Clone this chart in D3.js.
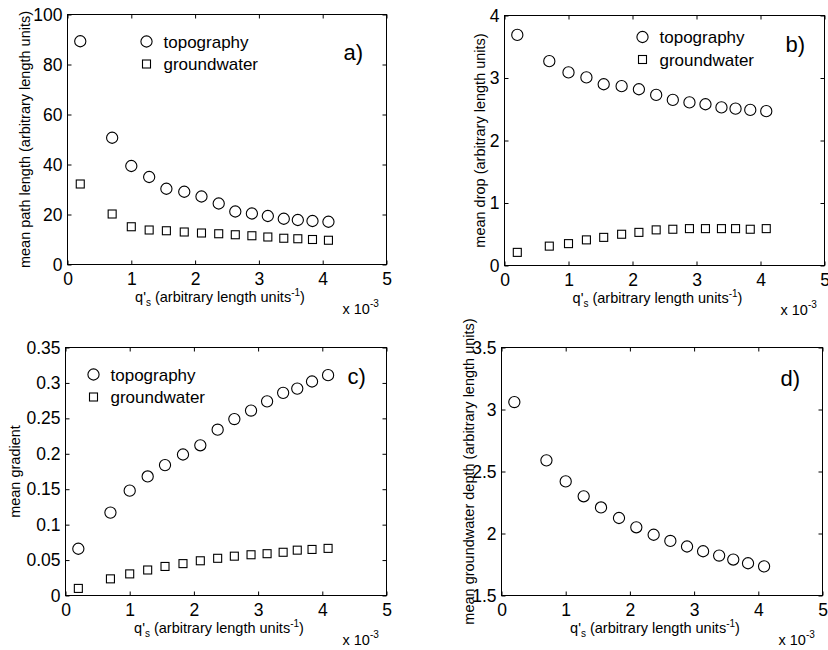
<!DOCTYPE html>
<html><head><meta charset="utf-8">
<script src="https://cdn.jsdelivr.net/npm/d3@7"></script>
<style>body{margin:0;background:#fff}svg{display:block}text{font-family:"Liberation Sans",Arial,sans-serif;fill:#000}</style>
</head><body><svg id="c" width="828" height="650"></svg>
<script>
// q's values (x 10^-3)
const qs = [0.2, 0.7, 1.0, 1.28, 1.55, 1.83, 2.1, 2.37, 2.63, 2.89, 3.14, 3.39, 3.61, 3.84, 4.09];
const pathTopo = [89.3, 50.7, 39.4, 35.0, 30.3, 29.1, 27.2, 24.4, 21.2, 20.4, 19.4, 18.3, 17.8, 17.4, 17.1];
const pathGw   = [32.2, 20.2, 15.1, 13.8, 13.5, 13.0, 12.6, 12.3, 11.9, 11.5, 11.0, 10.5, 10.3, 10.0, 9.7];
const dropTopo = [3.69, 3.27, 3.09, 3.01, 2.90, 2.87, 2.82, 2.73, 2.65, 2.61, 2.58, 2.53, 2.51, 2.49, 2.47];
const dropGw   = [0.21, 0.31, 0.35, 0.41, 0.45, 0.50, 0.53, 0.57, 0.58, 0.59, 0.59, 0.59, 0.59, 0.58, 0.59];
const gradTopo = [0.066, 0.117, 0.148, 0.168, 0.184, 0.199, 0.212, 0.234, 0.249, 0.261, 0.274, 0.286, 0.292, 0.302, 0.311];
const gradGw   = [0.010, 0.0235, 0.0305, 0.036, 0.041, 0.045, 0.049, 0.0525, 0.0555, 0.0575, 0.059, 0.061, 0.064, 0.065, 0.0665];
const gwDepth  = [3.06, 2.59, 2.42, 2.30, 2.21, 2.125, 2.05, 1.99, 1.94, 1.895, 1.857, 1.822, 1.79, 1.76, 1.735];
const xTicks = [0, 1, 2, 3, 4, 5];
const yTicksA = [0, 20, 40, 60, 80, 100];
const yTicksB = [0, 1, 2, 3, 4];
const yTicksC = [0, 0.05, 0.1, 0.15, 0.2, 0.25, 0.3, 0.35];
const yTicksD = [1.5, 2, 2.5, 3, 3.5];
const legendNames = ["topography", "groundwater"];
const panelLabels = ["a)", "b)", "c)", "d)"];
const yLabels = ["mean path length (arbitrary length units)", "mean drop (arbitrary length units)", "mean gradient", "mean groundwater depth (arbitrary length units)"];

const svg = d3.select("#c");
const panels = [
  {l:67.5, t:14.5, r:386.5, b:264.5, yd:[0,100], yt:yTicksA, series:[pathTopo, pathGw], lab:panelLabels[0], labDx:-43, labDy:45, legX:79, legY:27, ylab:yLabels[0], ylx:26, leg:true},
  {l:504.5, t:15.5, r:824.5, b:265.5, yd:[0,4], yt:yTicksB, series:[dropTopo, dropGw], lab:panelLabels[1], labDx:-39, labDy:36.5, legX:138, legY:21.5, ylab:yLabels[1], ylx:481, leg:true},
  {l:65.5, t:347.5, r:386.5, b:595.5, yd:[0,0.35], yt:yTicksC, series:[gradTopo, gradGw], lab:panelLabels[2], labDx:-39, labDy:36, legX:28, legY:27, ylab:yLabels[2], ylx:16, leg:true},
  {l:501.5, t:347.5, r:822.5, b:595.5, yd:[1.5,3.5], yt:yTicksD, series:[gwDepth], lab:panelLabels[3], labDx:-42, labDy:38, ylab:yLabels[3], ylx:470.5, leg:false}
];

function marker(g, kind, x, y){
  if(kind===0) g.append("circle").attr("cx",x).attr("cy",y).attr("r",5.6).attr("fill","none").attr("stroke","#000").attr("stroke-width",1.1);
  else g.append("rect").attr("x",x-4).attr("y",y-4).attr("width",8).attr("height",8).attr("fill","none").attr("stroke","#000").attr("stroke-width",1.1);
}

panels.forEach(p=>{
  const x = d3.scaleLinear().domain([0,5]).range([p.l,p.r]);
  const y = d3.scaleLinear().domain(p.yd).range([p.b,p.t]);
  const g = svg.append("g");
  const tl = 4;
  const fmt = d3.format("~g");
  g.append("g").attr("transform",`translate(0,${p.b})`).call(d3.axisBottom(x).tickValues(xTicks).tickSizeInner(-tl).tickSizeOuter(0).tickPadding(8.5).tickFormat(fmt))
    .call(a=>{a.select(".domain").remove();a.selectAll("text").attr("font-size",17.5).attr("font-family","Liberation Sans, Arial").attr("fill","#000");a.selectAll("line").attr("stroke","#000");});
  g.append("g").attr("transform",`translate(0,${p.t})`).call(d3.axisTop(x).tickValues(xTicks).tickSizeInner(-tl).tickSizeOuter(0).tickFormat(""))
    .call(a=>{a.select(".domain").remove();a.selectAll("line").attr("stroke","#000");});
  g.append("g").attr("transform",`translate(${p.l},0)`).call(d3.axisLeft(y).tickValues(p.yt).tickSizeInner(-tl).tickSizeOuter(0).tickPadding(5).tickFormat(fmt))
    .call(a=>{a.select(".domain").remove();a.selectAll("text").attr("font-size",17.5).attr("font-family","Liberation Sans, Arial").attr("fill","#000");a.selectAll("line").attr("stroke","#000");});
  g.append("g").attr("transform",`translate(${p.r},0)`).call(d3.axisRight(y).tickValues(p.yt).tickSizeInner(-tl).tickSizeOuter(0).tickFormat(""))
    .call(a=>{a.select(".domain").remove();a.selectAll("line").attr("stroke","#000");});
  g.append("rect").attr("x",p.l).attr("y",p.t).attr("width",p.r-p.l).attr("height",p.b-p.t).attr("fill","none").attr("stroke","#000").attr("stroke-width",1);

  p.series.forEach((s,k)=>{ s.forEach((v,i)=>marker(g,k,x(qs[i]),y(v))); });

  if(p.leg){
    legendNames.forEach((n,k)=>{
      const ly = p.t + p.legY + k*22.5;
      marker(g,k,p.l+p.legX,ly);
      g.append("text").attr("x",p.l+p.legX+17).attr("y",ly+6).attr("font-size",17).text(n);
    });
  }
  g.append("text").attr("x",p.r+p.labDx).attr("y",p.t+p.labDy).attr("font-size",22).text(p.lab);

  const cx = (p.l+p.r)/2 - 7;
  const xl = g.append("text").attr("x",cx).attr("y",p.b+37).attr("text-anchor","middle").attr("font-size",14.5);
  xl.append("tspan").text("q'");
  xl.append("tspan").attr("font-size",10).attr("dy",4).text("s");
  xl.append("tspan").attr("dy",-4).text(" (arbitrary length units");
  xl.append("tspan").attr("font-size",10).attr("dy",-6).text("-1");
  xl.append("tspan").attr("dy",6).text(")");
  const xe = g.append("text").attr("x",p.r-44).attr("y",p.b+49).attr("font-size",14.5);
  xe.append("tspan").text("x 10");
  xe.append("tspan").attr("font-size",10).attr("dy",-7).text("-3");

  g.append("text").attr("transform",`translate(${p.ylx},${(p.t+p.b)/2}) rotate(-90)`).attr("text-anchor","middle").attr("dominant-baseline","middle").attr("font-size",14.5).text(p.ylab);
});
</script></body></html>
